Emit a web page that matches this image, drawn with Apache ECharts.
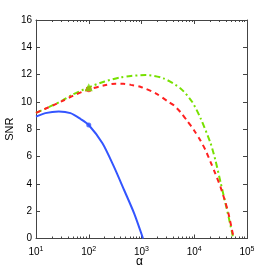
<!DOCTYPE html>
<html><head><meta charset="utf-8">
<script src="https://cdn.jsdelivr.net/npm/echarts@6/dist/echarts.min.js"></script>
<style>html,body{margin:0;padding:0;background:#fff}#c{width:273px;height:271px}</style>
</head><body><div id="c"></div>
<script>
// Blue curve (solid)
const blueAlpha = [10, 15, 27, 45, 70, 100, 182, 300, 468, 725, 1070];
const blueSNR   = [8.92, 9.18, 9.3, 9.18, 8.75, 8.31, 6.97, 5.26, 3.55, 1.84, 0];
// Red curve (dashed)
const redAlpha = [10, 15, 22, 32, 50, 100, 200, 320, 450, 630, 950, 1860, 3240, 4100, 5500, 7400, 9800, 13200, 16200, 20400, 25100, 31600, 38900, 44700, 56200];
const redSNR   = [9.2, 9.5, 9.78, 10.08, 10.45, 10.92, 11.22, 11.33, 11.33, 11.25, 11.11, 10.63, 10.01, 9.75, 9.25, 8.6, 7.95, 7.15, 6.5, 5.6, 4.75, 3.75, 2.65, 1.8, 0];
// Green curve (dash-dot)
const greenAlpha = [10, 15, 22, 32, 50, 100, 200, 400, 630, 1200, 2600, 5500, 9100, 13200, 20400, 25100, 31600, 38900, 44700, 55000];
const greenSNR   = [9.2, 9.5, 9.8, 10.12, 10.55, 11.07, 11.5, 11.8, 11.9, 11.97, 11.73, 10.99, 10.01, 8.8, 6.97, 5.75, 4.1, 2.6, 1.6, 0];
// Markers at alpha = 100
const markBlue = [100, 8.31];
const markRed = [100, 10.92];
const markGreen = [100, 11.07];
// Ticks
const xMajor = [10, 100, 1000, 10000, 100000];
const xMinor = [20,30,40,50,60,70,80,90,200,300,400,500,600,700,800,900,2000,3000,4000,5000,6000,7000,8000,9000,20000,30000,40000,50000,60000,70000,80000,90000];
const yTicks = [0, 2, 4, 6, 8, 10, 12, 14, 16];

const zip = (a, b) => a.map((v, i) => [v, b[i]]);
const font = 'Liberation Sans, Arial, sans-serif';
const axisCol = '#444';

function xAx(pos, ticks, len, showLabel, showLine) {
  return {
    type: 'log', logBase: 10, min: 10, max: 100000, position: pos,
    axisLine: { show: showLine, onZero: false, lineStyle: { color: axisCol, width: 1 } },
    axisTick: { show: true, inside: true, length: len, customValues: ticks, lineStyle: { color: axisCol } },
    axisLabel: showLabel ? {
      show: true, customValues: ticks, margin: 7, fontFamily: font, fontSize: 10, color: '#000',
      formatter: v => '10{s|' + Math.round(Math.log10(v)) + '}',
      rich: { s: { fontSize: 7, fontFamily: font, color: '#000', padding: [0, 0, 6, 0] } }
    } : { show: false },
    splitLine: { show: false }, minorTick: { show: false }
  };
}

const chart = echarts.init(document.getElementById('c'));
chart.setOption({
  animation: false,
  backgroundColor: '#fff',
  grid: { left: 36, right: 26, top: 20, bottom: 32.5, containLabel: false, outerBoundsMode: 'none' },
  xAxis: [
    xAx('bottom', xMajor, 4, true, true),
    xAx('bottom', xMinor, 2, false, false),
    xAx('top', xMajor, 4, false, true),
    xAx('top', xMinor, 2, false, false)
  ],
  yAxis: [
    { type: 'value', min: 0, max: 16, interval: 2, position: 'left',
      axisLine: { show: true, lineStyle: { color: axisCol } },
      axisTick: { inside: true, length: 4, lineStyle: { color: axisCol } },
      axisLabel: { fontFamily: font, fontSize: 10, color: '#000', margin: 4, customValues: yTicks },
      splitLine: { show: false },
      name: 'SNR', nameLocation: 'middle', nameGap: 21, nameRotate: 90, nameMoveOverlap: false,
      nameTextStyle: { fontFamily: font, fontSize: 11, color: '#000' } },
    { type: 'value', min: 0, max: 16, interval: 2, position: 'right',
      axisLine: { show: true, lineStyle: { color: axisCol } },
      axisTick: { inside: true, length: 4, lineStyle: { color: axisCol } },
      axisLabel: { show: false }, splitLine: { show: false } }
  ],
  graphic: [{ type: 'text', left: 136, top: 256, style: { text: 'α', font: '12px ' + font, fill: '#000' } }],
  series: [
    { type: 'line', data: zip(blueAlpha, blueSNR), smooth: 0.25, showSymbol: false,
      lineStyle: { color: '#3355ff', width: 2 }, z: 3 },
    { type: 'line', data: zip(greenAlpha, greenSNR), smooth: 0.25, showSymbol: false,
      lineStyle: { color: '#77e000', width: 2, type: [6, 3, 2, 3] }, z: 2 },
    { type: 'line', data: zip(redAlpha, redSNR), smooth: 0.25, showSymbol: false,
      lineStyle: { color: '#ff2020', width: 2, type: [5, 4] }, z: 2 },
    { type: 'scatter', data: [markBlue], symbol: 'circle', symbolSize: 5, itemStyle: { color: '#3355ff' }, z: 4 },
    { type: 'scatter', data: [markRed], symbol: 'circle', symbolSize: 6, itemStyle: { color: '#ff2020' }, z: 4 },
    { type: 'scatter', data: [markGreen], symbol: 'triangle', symbolSize: 8, itemStyle: { color: '#77e000' }, z: 5 }
  ]
});
</script></body></html>
